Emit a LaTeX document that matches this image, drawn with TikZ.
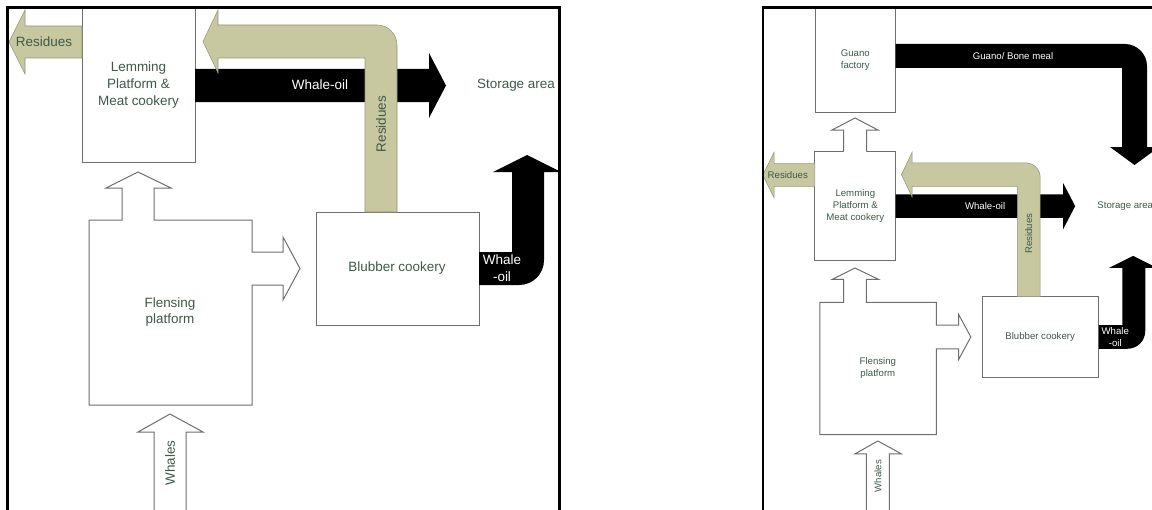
\documentclass[tikz,border=0pt]{standalone}
\usepackage{fontspec}
\setmainfont{Liberation Sans}
\definecolor{labelgreen}{RGB}{62,90,72}
\definecolor{residuekhaki}{RGB}{199,199,160}
\definecolor{boxgray}{RGB}{110,110,110}

\tikzset{
  plantbox/.style={draw=boxgray, line width=0.75pt, fill=white},
  oil/.style={fill=black},
  residue/.style={fill=residuekhaki, draw=residuekhaki!75!black, line width=0.4pt},
  lbl/.style={text=labelgreen, align=center, inner sep=0pt, font=\fontsize{10.1}{12.5}\selectfont},
  oillbl/.style={lbl, text=white},
  panelframe/.style={line width=1.9pt}
}

% one whaling plant, #1 = prefix of the node names
\newcommand{\whaleplant}[1]{%
  \draw[plantbox] (89,220) -- (122,220) -- (122,188) -- (106,188) -- (138,172) -- (171,188) -- (154,188) -- (154,220)
        -- (252,220) -- (252,252) -- (283,252) -- (283,237) -- (300,268.5) -- (283,300) -- (283,285) -- (252,285)
        -- (252,405) -- (89,405) -- cycle;
  \draw[plantbox] (154,530) -- (154,432) -- (138,432) -- (170,414) -- (203,432) -- (186,432) -- (186,530);
  \draw[plantbox] (82,9) rectangle (195,162);
  \draw[plantbox] (316,212) rectangle (479,325);
  \fill[oil] (195,69) -- (429,69) -- (429,53) -- (446,85.5) -- (429,118) -- (429,102) -- (195,102) -- cycle;
  \fill[oil] (479,252) -- (512,252) -- (512,172) -- (493,172) -- (527,155) -- (561,172) -- (544,172) -- (544,260)
        .. controls (544,274) and (533,285) .. (519,285) -- (479,285) -- cycle;
  \filldraw[residue] (82,26) -- (25,26) -- (25,10) -- (9,42) -- (25,74) -- (25,58) -- (82,58) -- cycle;
  \filldraw[residue] (365,212) -- (365,58) -- (218,58) -- (218,73) -- (203,41.5) -- (218,10) -- (218,25) -- (377,25)
        .. controls (388,25) and (397,34) .. (397,45) -- (397,212) -- cycle;
  \node[lbl] (#1lem) at (138.5,85) {Lemming\\Platform \&\\Meat cookery};
  \node[lbl] (#1blub) at (397,268) {Blubber cookery};
  \node[lbl] (#1flen) at (170,312) {Flensing\\platform};
  \node[lbl, rotate=90] (#1whales) at (170,463) {Whales};
  \node[lbl] (#1res) at (44,42) {Residues};
  \node[lbl, rotate=90] (#1resup) at (381,124) {Residues};
  \node[oillbl] (#1oil) at (320,85) {Whale-oil};
  \node[oillbl] (#1oilup) at (502,268.5) {Whale\\-oil};
  \node[lbl] (#1store) at (516,85) {Storage area};
}

\begin{document}
\begin{tikzpicture}[x=0.75pt, y=-0.75pt]
  \useasboundingbox (0,0) rectangle (1152,510);
  \whaleplant{L}
  \begin{scope}[shift={(756.3,145)}, scale=0.715, transform shape]
    \whaleplant{R}
  \end{scope}
  % guano factory on top of the second plant
  \draw[plantbox] (815,8) rectangle (895.7,112);
  \fill[white] (844.3,148) rectangle (865.7,154);
  \draw[plantbox] (843.5,151.4) -- (843.5,130) -- (832,130) -- (855,118) -- (878,130) -- (866.5,130) -- (866.5,151.4);
  \fill[oil] (895.7,44) -- (1125,44) .. controls (1137,44) and (1147,54) .. (1147,66) -- (1147,147) -- (1159,147)
        -- (1134.5,165) -- (1110,147) -- (1122,147) -- (1122,68) -- (895.7,68) -- cycle;
  \node[lbl, scale=0.715] (guano) at (855.3,60) {Guano\\factory};
  \node[oillbl, scale=0.715] (bonemeal) at (1013,56) {Guano/ Bone meal};
  \draw[panelframe] (7.5,530) -- (7.5,7.5) -- (559.5,7.5) -- (559.5,530);
  \draw[panelframe] (763,530) -- (763,7.5) -- (1170,7.5);
\end{tikzpicture}
\end{document}
